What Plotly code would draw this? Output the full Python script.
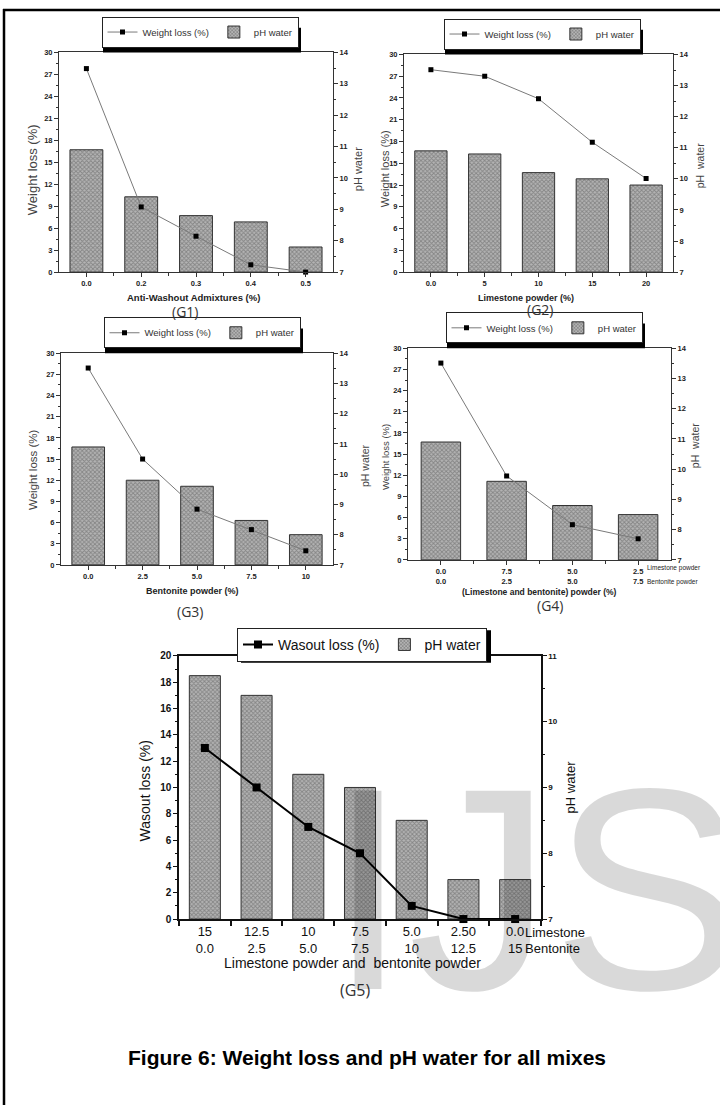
import plotly.graph_objects as go

W, H = 720, 1111
def px(x): return x / W
def py(y): return 1 - y / H

# ---------------- data ----------------
g1_cats = ["0.0", "0.2", "0.3", "0.4", "0.5"]
g1_loss = [27.8, 8.9, 4.9, 1.0, 0.0]
g1_ph = [10.9, 9.4, 8.8, 8.6, 7.8]

g2_cats = ["0.0", "5", "10", "15", "20"]
g2_loss = [27.9, 27.0, 23.9, 17.9, 12.9]
g2_ph = [10.9, 10.8, 10.2, 10.0, 9.8]

g3_cats = ["0.0", "2.5", "5.0", "7.5", "10"]
g3_loss = [27.9, 15.0, 7.9, 5.0, 2.0]
g3_ph = [10.9, 9.8, 9.6, 8.47, 8.0]

g4_lime = ["0.0", "7.5", "5.0", "2.5"]
g4_bent = ["0.0", "2.5", "5.0", "7.5"]
g4_loss = [27.9, 11.9, 5.0, 3.0]
g4_ph = [10.9, 9.6, 8.8, 8.5]

g5_lime = ["15", "12.5", "10", "7.5", "5.0", "2.50", "0.0"]
g5_bent = ["0.0", "2.5", "5.0", "7.5", "10", "12.5", "15"]
g5_loss = [13, 10, 7, 5, 1, 0, 0]
g5_ph = [10.7, 10.4, 9.2, 9.0, 8.5, 7.6, 7.6]

FONT = "Liberation Sans, Arial, sans-serif"
CAPFONT = "Open Sans, Liberation Sans, sans-serif"

panels = [
    dict(cats=g1_cats, loss=g1_loss, ph=g1_ph, box=(59, 333, 47, 269), big=False,
         lrange=(0, 30), ldt=3, rrange=(7, 14), lname="Weight loss (%)", lx=200, ly=42),
    dict(cats=g2_cats, loss=g2_loss, ph=g2_ph, box=(404, 673, 49, 269), big=False,
         lrange=(0, 30), ldt=3, rrange=(7, 14), lname="Weight loss (%)", lx=542, ly=44),
    dict(cats=g3_cats, loss=g3_loss, ph=g3_ph, box=(61, 333, 351, 565), big=False,
         lrange=(0, 30), ldt=3, rrange=(7, 14), lname="Weight loss (%)", lx=202, ly=346),
    dict(cats=[a + "<br>" + b for a, b in zip(g4_lime, g4_bent)], loss=g4_loss, ph=g4_ph,
         box=(408, 671, 346, 560), big=False,
         lrange=(0, 30), ldt=3, rrange=(7, 14), lname="Weight loss (%)", lx=544, ly=341),
    dict(cats=[a + "<br>" + b for a, b in zip(g5_lime, g5_bent)], loss=g5_loss, ph=g5_ph,
         box=(179, 541, 657, 923), big=True,
         lrange=(0, 20), ldt=2, rrange=(7, 11), lname="Wasout loss (%)", lx=362, ly=663),
]

fig = go.Figure()
layout = dict()
annotations = []
shapes = []

for i, p in enumerate(panels, start=1):
    n = len(p["cats"])
    xs = list(range(n))
    xname = "x" if i == 1 else f"x{i}"
    base = 2 * i - 1
    over = 2 * i
    yb = "y" if base == 1 else f"y{base}"
    yo = f"y{over}"
    leg = "legend" if i == 1 else f"legend{i}"
    x0, x1, y0, y1 = p["box"]
    big = p["big"]
    axc = "#111" if big else "#333"
    tickc = "#111" if big else "#222"

    fig.add_trace(go.Scatter(
        x=xs, y=p["loss"], xaxis=xname, yaxis=yo, name=p["lname"], legend=leg,
        mode="lines+markers", cliponaxis=False,
        line=dict(color="#000" if big else "#7a7a7a", width=2 if big else 1),
        marker=dict(symbol="square", size=8 if big else 5, color="#000"),
    ))
    fig.add_trace(go.Bar(
        x=xs, y=[v - p["rrange"][0] for v in p["ph"]], base=p["rrange"][0],
        xaxis=xname, yaxis=yb, name="pH water", legend=leg, width=0.6,
        marker=dict(color="#999999", line=dict(color="#333", width=1),
                    pattern=dict(shape="x", size=3, solidity=0.5,
                                 fgcolor="#555555", bgcolor="#b4b4b4")),
    ))

    xk = "xaxis" if i == 1 else f"xaxis{i}"
    if big:
        xaxis = dict(tickvals=xs, ticktext=p["cats"],
                     ticks="outside", ticklen=0,
                     minor=dict(tickmode="array", tickvals=[k - 0.5 for k in range(n + 1)],
                                ticks="outside", ticklen=5, tickcolor=axc, tickwidth=1.5),
                     tickfont=dict(family=FONT, size=13, color=tickc))
    else:
        xaxis = dict(tickvals=xs, ticktext=p["cats"], ticks="outside", ticklen=4,
                     tickcolor=axc,
                     minor=dict(tickmode="array", tickvals=[k + 0.5 for k in range(n - 1)],
                                ticks="outside", ticklen=3, tickcolor=axc),
                     tickfont=dict(family=FONT, size=7.5, color=tickc, weight="bold"))
    xaxis.update(domain=[px(x0), px(x1)], anchor=yb, range=[-0.5, n - 0.5],
                 showline=True, linecolor=axc, linewidth=1.5 if big else 1, mirror=True,
                 showgrid=False, zeroline=False)
    layout[xk] = xaxis

    ybk = "yaxis" if base == 1 else f"yaxis{base}"
    layout[ybk] = dict(domain=[py(y1), py(y0)], anchor=xname, side="right",
                       range=list(p["rrange"]), dtick=1, ticks="outside", ticklen=4,
                       tickcolor=axc,
                       minor=dict(dtick=0.5, ticks="outside", ticklen=2, tickcolor=axc),
                       showline=True, linecolor=axc, linewidth=1.5 if big else 1,
                       showgrid=False, zeroline=False,
                       tickfont=dict(family=FONT, size=8 if big else 7.5, color=tickc, weight="bold"))
    layout[f"yaxis{over}"] = dict(overlaying=yb, anchor=xname, side="left",
                                  range=list(p["lrange"]), dtick=p["ldt"], ticks="outside", ticklen=4,
                                  tickcolor=axc,
                                  minor=dict(dtick=p["ldt"] / 2, ticks="outside", ticklen=2, tickcolor=axc),
                                  showline=True, linecolor=axc, linewidth=1.5 if big else 1,
                                  showgrid=False, zeroline=False,
                                  tickfont=dict(family=FONT, size=10 if big else 7.5, color=tickc, weight="bold"))

    layout[leg] = dict(orientation="h", x=px(p["lx"]), y=py(p["ly"]), xanchor="center",
                       yanchor="bottom", bgcolor="white", bordercolor="#222", borderwidth=1,
                       font=dict(family=FONT, size=14 if big else 9.5, color="#111" if big else "#333"),
                       itemwidth=30, traceorder="normal")

    # legend drop shadow (offset black box behind the legend)
    if big:
        lw, top, bot, off = 250, p["ly"] - 36, p["ly"] - 3, 4
    else:
        lw, top, bot, off = 198, p["ly"] - 22, p["ly"] + 3, 2
    shapes.append(dict(type="rect", xref="paper", yref="paper", layer="above",
                       x0=px(p["lx"] - lw / 2 + off), x1=px(p["lx"] + lw / 2 + off),
                       y0=py(bot + off), y1=py(top + off),
                       fillcolor="black", line=dict(width=0)))

# ---------- text annotations ----------
def ann(text, x, y, size, color="#333", bold=False, angle=0, family=FONT, **kw):
    d = dict(text=text, x=px(x), y=py(y), xref="paper", yref="paper", showarrow=False,
             font=dict(family=family, size=size, color=color, weight="bold" if bold else "normal"),
             textangle=angle, xanchor="center", yanchor="middle")
    d.update(kw)
    annotations.append(d)

# y titles
ann("Weight loss (%)", 32, 166, 13, "#444", angle=-90)
ann("pH water", 358, 165, 11, "#444", angle=-90)
ann("Weight loss (%)", 385, 165, 11, "#444", angle=-90)
ann("pH  water", 700, 162, 10.5, "#444", angle=-90)
ann("Weight loss (%)", 33, 469, 11.5, "#444", angle=-90)
ann("pH water", 365, 465, 10.5, "#444", angle=-90)
ann("Weight loss (%)", 385, 456, 9.5, "#444", angle=-90)
ann("pH  water", 695, 445, 10.5, "#444", angle=-90)
ann("Wasout loss (%)", 145, 794, 14, "#111", angle=-90)
ann("pH water", 570, 790, 13, "#111", angle=-90)

# x titles
ann("Anti-Washout Admixtures (%)", 193, 295, 9.5, "#222", bold=True)
ann("Limestone powder (%)", 526, 295, 9, "#222", bold=True)
ann("Bentonite powder (%)", 192, 591, 9, "#222", bold=True)
ann("(Limestone and bentonite) powder (%)", 539, 592, 8.5, "#222", bold=True)
ann("Limestone powder and  bentonite powder", 352, 967, 14, "#111")

# extra tick annotations tied to the last category
annotations.append(dict(text="Limestone powder", x=3, xref="x4", xshift=7, y=py(568), yref="paper",
                        showarrow=False, xanchor="left", yanchor="middle",
                        font=dict(family=FONT, size=6.5, color="#222")))
annotations.append(dict(text="Bentonite powder", x=3, xref="x4", xshift=7, y=py(582), yref="paper",
                        showarrow=False, xanchor="left", yanchor="middle",
                        font=dict(family=FONT, size=6.5, color="#222")))
annotations.append(dict(text="Limestone", x=6, xref="x5", xshift=8, y=py(937), yref="paper",
                        showarrow=False, xanchor="left", yanchor="middle",
                        font=dict(family=FONT, size=13, color="#111")))
annotations.append(dict(text="Bentonite", x=6, xref="x5", xshift=8, y=py(953), yref="paper",
                        showarrow=False, xanchor="left", yanchor="middle",
                        font=dict(family=FONT, size=13, color="#111")))

# captions
ann("(G1)", 185, 309, 14, "#333", family=CAPFONT)
ann("(G2)", 540, 307, 14, "#333", family=CAPFONT)
ann("(G3)", 190, 612, 14, "#333", family=CAPFONT)
ann("(G4)", 550, 606, 14, "#333", family=CAPFONT)
ann("(G5)", 355, 995, 16, "#333", family=CAPFONT)

# figure title
ann("Figure 6: Weight loss and pH water for all mixes", 367, 1063, 21, "#000", bold=True)

# watermark
annotations.append(dict(text="IJS", x=px(326), y=py(728), xref="paper", yref="paper",
                        xanchor="left", yanchor="top", showarrow=False,
                        font=dict(family=FONT, size=288, color="rgba(0,0,0,0.15)")))

# outer border
shapes.append(dict(type="line", xref="paper", yref="paper", x0=px(3), x1=1, y0=py(4), y1=py(4),
                   line=dict(color="black", width=2.5)))
shapes.append(dict(type="line", xref="paper", yref="paper", x0=px(4), x1=px(4), y0=py(3), y1=0,
                   line=dict(color="black", width=2.5)))

fig.update_layout(**layout)
fig.update_layout(width=W, height=H, margin=dict(l=0, r=0, t=0, b=0),
                  paper_bgcolor="white", plot_bgcolor="rgba(0,0,0,0)",
                  annotations=annotations, shapes=shapes, bargap=0.4,
                  font=dict(family=FONT))
fig.write_html("out.html")
